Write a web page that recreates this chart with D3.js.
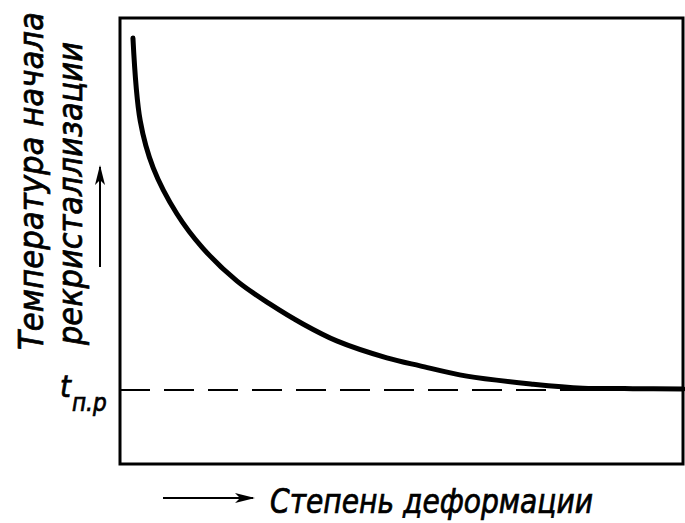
<!DOCTYPE html>
<html>
<head>
  <meta charset="utf-8">
  <title>Recrystallization temperature vs deformation</title>
  <style>
    body { margin: 0; background: #fff; }
    text {
      font-family: "DejaVu Sans Condensed", "DejaVu Sans", sans-serif;
      font-style: italic;
      fill: #000;
      stroke: #000;
      stroke-width: 0.7px;
    }
  </style>
  <script src="https://d3js.org/d3.v7.min.js"></script>
</head>
<body>
  <div id="chart"></div>
  <script>
    // deformation degree (0..100) and recrystallization start temperature (0..100, relative)
    const deformation = [2.3, 3.6, 5.9, 10.1, 14.7, 20.8, 26.6, 32.5, 38.5, 47.4, 53.3, 61.6, 73.4, 82.2, 91.1, 100];
    const temperature = [95.5, 76.9, 66.4, 56.1, 48.4, 41.0, 35.9, 31.4, 27.6, 23.8, 22.0, 19.7, 17.9, 17.0, 16.9, 16.8];
    const tLimit = 16.6; // t п.р level
    const yLabelLines = ["Температура начала", "рекристаллизации"];
    const xLabel = "Степень деформации";

    const svg = d3.select("#chart").append("svg")
      .attr("width", 685)
      .attr("height", 523);

    const margin = { top: 18, right: 2, bottom: 59, left: 120 },
          width = 685 - margin.left - margin.right,
          height = 523 - margin.top - margin.bottom;

    const x = d3.scaleLinear().domain([0, 100]).range([margin.left, margin.left + width]);
    const y = d3.scaleLinear().domain([0, 100]).range([margin.top + height, margin.top]);

    // frame
    svg.append("rect")
      .attr("x", x(0))
      .attr("y", y(100))
      .attr("width", x(100) - x(0))
      .attr("height", y(0) - y(100))
      .attr("fill", "none")
      .attr("stroke", "#000")
      .attr("stroke-width", 3);

    // dashed limit line
    svg.append("line")
      .attr("x1", x(0))
      .attr("x2", x(100))
      .attr("y1", y(tLimit))
      .attr("y2", y(tLimit))
      .attr("stroke", "#000")
      .attr("stroke-width", 2)
      .attr("stroke-dasharray", "30,14");

    // curve
    const pts = deformation.map((d, i) => [d, temperature[i]]);
    const line = d3.line()
      .x(d => x(d[0]))
      .y(d => y(d[1]))
      .curve(d3.curveCatmullRom.alpha(0.5));

    svg.append("path")
      .datum(pts)
      .attr("fill", "none")
      .attr("stroke", "#000")
      .attr("stroke-width", 5)
      .attr("stroke-linecap", "round")
      .attr("d", line);

    // arrow marker
    svg.append("defs").append("marker")
      .attr("id", "arrow")
      .attr("viewBox", "0 0 20 10")
      .attr("refX", 18)
      .attr("refY", 5)
      .attr("markerWidth", 20)
      .attr("markerHeight", 10)
      .attr("markerUnits", "userSpaceOnUse")
      .attr("orient", "auto")
      .append("path")
      .attr("d", "M0,0 L20,5 L0,10 L5,5 Z")
      .attr("fill", "#000");

    // y axis label (rotated, two lines)
    const ylab = svg.append("g");
    ylab.append("text")
      .attr("transform", "translate(43,350) rotate(-90)")
      .attr("font-size", 34)
      .attr("textLength", 338)
      .attr("lengthAdjust", "spacingAndGlyphs")
      .text(yLabelLines[0]);
    ylab.append("text")
      .attr("transform", "translate(82,345) rotate(-90)")
      .attr("font-size", 33)
      .attr("textLength", 303)
      .attr("lengthAdjust", "spacingAndGlyphs")
      .text(yLabelLines[1]);

    // up arrow
    svg.append("line")
      .attr("x1", 100).attr("y1", 267)
      .attr("x2", 100).attr("y2", 167)
      .attr("stroke", "#000")
      .attr("stroke-width", 2)
      .attr("marker-end", "url(#arrow)");

    // t п.р label
    const tl = svg.append("text")
      .attr("x", 60)
      .attr("y", y(tLimit) + 7)
      .attr("font-size", 31);
    tl.append("tspan").text("t");
    tl.append("tspan")
      .attr("font-size", 24)
      .attr("dy", 14)
      .attr("dx", 1)
      .text("п.р");

    // x axis label with arrow
    svg.append("line")
      .attr("x1", 163).attr("y1", 498)
      .attr("x2", 253).attr("y2", 498)
      .attr("stroke", "#000")
      .attr("stroke-width", 2)
      .attr("marker-end", "url(#arrow)");

    svg.append("text")
      .attr("x", 270)
      .attr("y", 513)
      .attr("font-size", 34)
      .attr("textLength", 323)
      .attr("lengthAdjust", "spacingAndGlyphs")
      .text(xLabel);
  </script>
</body>
</html>
